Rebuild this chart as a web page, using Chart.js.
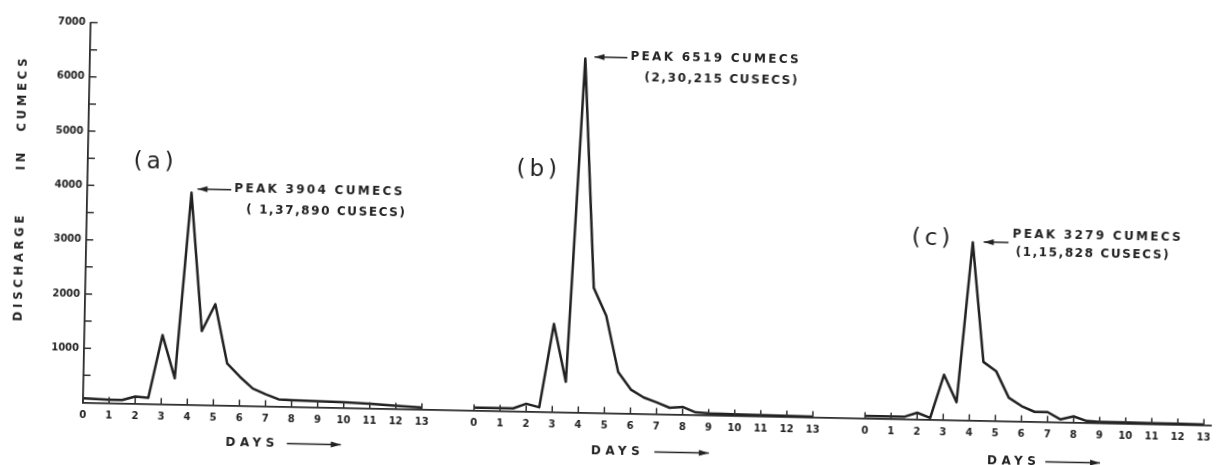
<!DOCTYPE html>
<html lang="es">
<head>
<meta charset="utf-8">
<title>Hidrogramas de crecida</title>
<script src="https://cdn.jsdelivr.net/npm/chart.js@4.4.1/dist/chart.umd.min.js"></script>
<style>
  html, body { margin: 0; padding: 0; background: #fff; overflow: hidden; }
  /* el original está escaneado con una ligera inclinación */
  #contenedor { width: 1218px; height: 465px; transform: rotate(1.15deg); transform-origin: 83px 402.5px; }
</style>
</head>
<body>
<div id="contenedor"><canvas id="graficoCaudal" width="1218" height="465"></canvas></div>
<script>
// Días de lectura (los mismos para los tres hidrogramas)
const dias = [0, 1, 1.5, 2, 2.5, 3, 3.5, 4, 4.5, 5, 5.5, 6, 6.5, 7, 7.5, 8, 8.5, 9, 10, 11, 12, 13];

// Caudales, en cumecs
const caudalA = [80, 60, 60, 130, 110, 1270, 480, 3904, 1360, 1860, 770, 530, 320, 220, 130, 120, 115, 110, 100, 85, 55, 30];
const caudalB = [50, 50, 50, 140, 80, 1620, 560, 6519, 2300, 1790, 760, 440, 300, 215, 120, 140, 45, 30, 25, 20, 15, 10];
const caudalC = [40, 40, 40, 120, 30, 830, 330, 3279, 1080, 910, 430, 280, 180, 180, 50, 110, 30, 20, 20, 15, 15, 10];

// Cada hidrograma empieza en su propio "día 0" sobre el eje común
const desfases = [0, 15, 30];
const etiquetasDias = [0, 1, 2, 3, 4, 5, 6, 7, 8, 9, 10, 11, 12, 13];

const nombres = ['(a)', '(b)', '(c)'];
const textosPico = ['PEAK 3904 CUMECS', 'PEAK 6519 CUMECS', 'PEAK 3279 CUMECS'];
const textosCusecs = ['( 1,37,890 CUSECS)', '(2,30,215 CUSECS)', '(1,15,828 CUSECS)'];
const tituloEjeY = ['DISCHARGE', 'IN', 'CUMECS'];

const colorTinta = '#222';
const fuente = 'DejaVu Sans';

function serie(caudales, desfase) {
    return dias.map((d, i) => ({ x: d + desfase, y: caudales[i] }));
}

function panelDe(valor) {
    return desfases.filter(o => o <= valor).pop();
}

// Flecha simple con punta rellena
function flecha(ctx, x1, x2, y, puntaIzquierda) {
    ctx.beginPath();
    ctx.moveTo(x1, y);
    ctx.lineTo(x2, y);
    ctx.stroke();
    const px = puntaIzquierda ? x1 : x2;
    const s = puntaIzquierda ? 1 : -1;
    ctx.beginPath();
    ctx.moveTo(px, y);
    ctx.lineTo(px + s * 10, y - 3);
    ctx.lineTo(px + s * 10, y + 3);
    ctx.closePath();
    ctx.fill();
}

// Marcas de los ejes hacia dentro, como en el dibujo original
const marcasInternas = {
    id: 'marcasInternas',
    afterDraw(chart) {
        const { ctx, scales: { x, y } } = chart;
        ctx.save();
        ctx.strokeStyle = '#333';
        ctx.lineWidth = 1.5;
        ctx.beginPath();
        x.ticks.forEach(t => {
            const px = x.getPixelForValue(t.value);
            ctx.moveTo(px, y.bottom);
            ctx.lineTo(px, y.bottom - 6);
        });
        y.ticks.forEach(t => {
            if (t.value <= 0) return;
            const py = y.getPixelForValue(t.value);
            ctx.moveTo(x.left, py);
            ctx.lineTo(x.left + 7, py);
        });
        ctx.stroke();
        ctx.restore();
    }
};

// Rótulos: (a)(b)(c), picos, "DAYS" y título vertical
const anotaciones = {
    id: 'anotaciones',
    afterDraw(chart) {
        const { ctx, scales: { x, y } } = chart;
        const X = d => x.getPixelForValue(d);
        const Y = v => y.getPixelForValue(v);

        ctx.save();
        ctx.fillStyle = colorTinta;
        ctx.strokeStyle = colorTinta;
        ctx.textBaseline = 'middle';

        // nombre de cada hidrograma
        const posNombre = [[2.6, 4440], [2.3, 4450], [2.47, 3330]];
        ctx.font = '23px "' + fuente + '"';
        ctx.letterSpacing = '4px';
        ctx.textAlign = 'center';
        nombres.forEach((n, i) => {
            ctx.fillText(n, X(posNombre[i][0] + desfases[i]), Y(posNombre[i][1]));
        });

        // rótulos de pico con su flecha
        const posPico = [[5.64, 3996], [5.73, 6575], [5.52, 3447]];
        const posCusecs = [[6.11, 3606], [6.28, 6175], [5.65, 3098]];
        const posFlecha = [[4.23, 5.52, 3974], [4.35, 5.61, 6553], [4.42, 5.37, 3289]];
        ctx.font = 'bold 12px "' + fuente + '"';
        ctx.textAlign = 'left';
        ctx.lineWidth = 1.5;
        textosPico.forEach((t, i) => {
            const o = desfases[i];
            ctx.letterSpacing = '2.3px';
            ctx.fillText(t, X(posPico[i][0] + o), Y(posPico[i][1]));
            ctx.letterSpacing = '1.6px';
            ctx.fillText(textosCusecs[i], X(posCusecs[i][0] + o), Y(posCusecs[i][1]));
            flecha(ctx, X(posFlecha[i][0] + o), X(posFlecha[i][1] + o), Y(posFlecha[i][2]), true);
        });

        // "DAYS" con flecha bajo cada eje
        const posDays = [[6.44, 7.85, 9.92, 37], [5.46, 6.95, 9.04, 38], [5.66, 6.95, 9.05, 40]];
        ctx.font = 'bold 12px "' + fuente + '"';
        ctx.letterSpacing = '4.5px';
        ctx.textAlign = 'center';
        posDays.forEach((p, i) => {
            const o = desfases[i];
            const py = y.bottom + p[3];
            ctx.fillText('DAYS', X(p[0] + o) + 2, py);
            flecha(ctx, X(p[1] + o), X(p[2] + o), py, false);
        });

        // título del eje vertical, palabra por palabra
        const posTitulo = [2444, 4415, 5640];
        ctx.font = 'bold 11.5px "' + fuente + '"';
        ctx.letterSpacing = '3.8px';
        tituloEjeY.forEach((palabra, i) => {
            ctx.save();
            ctx.translate(x.left - 66, Y(posTitulo[i]));
            ctx.rotate(-Math.PI / 2);
            ctx.fillText(palabra, 2, 0);
            ctx.restore();
        });
        ctx.restore();
    }
};

const estiloLinea = {
    borderColor: colorTinta,
    borderWidth: 2.5,
    pointRadius: 0,
    tension: 0,
    fill: false,
    clip: false,
    borderJoinStyle: 'round'
};

const ctxCaudal = document.getElementById('graficoCaudal').getContext('2d');
const graficoCaudal = new Chart(ctxCaudal, {
    type: 'line',
    data: {
        datasets: [
            { label: nombres[0], data: serie(caudalA, desfases[0]), ...estiloLinea },
            { label: nombres[1], data: serie(caudalB, desfases[1]), ...estiloLinea },
            { label: nombres[2], data: serie(caudalC, desfases[2]), ...estiloLinea }
        ]
    },
    options: {
        responsive: false,
        animation: false,
        events: [],
        layout: { padding: { left: 0, right: 0, top: 22.5, bottom: 0 } },
        plugins: {
            legend: { display: false },
            tooltip: { enabled: false }
        },
        scales: {
            x: {
                type: 'linear',
                min: 0,
                max: 43.3,
                grid: { display: false, drawTicks: false },
                border: { display: true, color: '#2a2a2a', width: 1.8 },
                afterFit: s => { s.height = 62.5; },
                afterBuildTicks: s => {
                    s.ticks = [];
                    desfases.forEach(o => etiquetasDias.forEach(d => s.ticks.push({ value: o + d })));
                },
                ticks: {
                    autoSkip: false,
                    maxRotation: 0,
                    padding: 7,
                    color: colorTinta,
                    font: { family: fuente, weight: 'bold', size: 10 },
                    callback: v => v - panelDe(v)
                }
            },
            y: {
                min: 0,
                max: 7000,
                grid: { display: false, drawTicks: false },
                border: { display: true, color: '#2a2a2a', width: 1.8 },
                afterFit: s => { s.width = 83; },
                ticks: {
                    stepSize: 500,
                    padding: 5,
                    color: colorTinta,
                    font: { family: fuente, weight: 'bold', size: 10 },
                    callback: v => (v > 0 && v % 1000 === 0) ? v : ''
                }
            }
        }
    },
    plugins: [marcasInternas, anotaciones]
});
</script>
</body>
</html>
